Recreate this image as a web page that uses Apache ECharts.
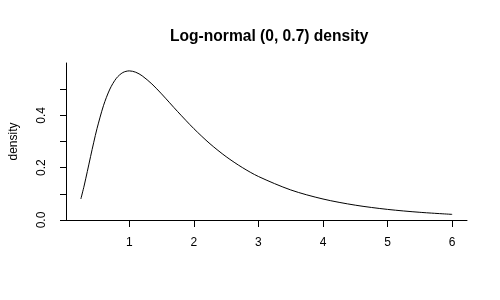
<!DOCTYPE html>
<html><head><meta charset="utf-8">
<script src="https://cdn.jsdelivr.net/npm/echarts@6/dist/echarts.min.js"></script>
<style>html,body{margin:0;padding:0;background:#fff}#c{width:500px;height:300px}</style>
</head><body><div id="c"></div>
<script>
const titleText = 'Log-normal (0, 0.7) density';
const yName = 'density';
const xValues = [0.25,0.3,0.35,0.4,0.45,0.5,0.6,0.7,0.8,0.9,1.0,1.1,1.2,1.35,1.5,1.75,2.0,2.25,2.5,2.75,3.0,3.5,4.0,4.5,5.0,5.5,6.0];
const densityValues = [0.0802,0.1298,0.1851,0.2420,0.2973,0.3491,0.4367,0.5005,0.5417,0.5635,0.5699,0.5647,0.5509,0.5199,0.4819,0.4140,0.3491,0.2913,0.2420,0.2006,0.1663,0.1149,0.0802,0.0567,0.0405,0.0294,0.0215];
const xTicks = [1,2,3,4,5,6];
const yTicks = [0,0.1,0.2,0.3,0.4,0.5];
const yLabels = [0,0.2,0.4];

const chart = echarts.init(document.getElementById('c'), null, {renderer:'canvas'});
const font = 'Liberation Sans, Arial, sans-serif';
chart.setOption({
  animation:false,
  backgroundColor:'#fff',
  title:{text:titleText,left:165,top:24,
    textStyle:{fontFamily:font,fontSize:15.6,fontWeight:'bold',color:'#000'}},
  grid:{left:63,right:33,top:63,bottom:80,containLabel:false},
  xAxis:{type:'value',min:0.02,max:6.23,
    axisLine:{show:true,onZero:false,lineStyle:{color:'#000',width:1}},
    axisTick:{show:true,length:7,customValues:xTicks,lineStyle:{color:'#000'}},
    axisLabel:{customValues:xTicks,margin:17,fontFamily:font,fontSize:12,color:'#000'},
    splitLine:{show:false}},
  yAxis:{type:'value',min:0,max:0.6,
    name:yName,nameLocation:'middle',nameRotate:90,nameGap:46,
    nameTextStyle:{fontFamily:font,fontSize:12,color:'#000'},
    axisLine:{show:true,lineStyle:{color:'#000',width:1}},
    axisTick:{show:true,length:6,customValues:yTicks,lineStyle:{color:'#000'}},
    axisLabel:{customValues:yLabels,rotate:90,margin:18,fontFamily:font,fontSize:12,color:'#000',
      formatter:v=>v.toFixed(1)},
    splitLine:{show:false}},
  series:[{type:'line',data:xValues.map((x,i)=>[x,densityValues[i]]),
    smooth:0.3,showSymbol:false,lineStyle:{color:'#000',width:1}}]
});
</script></body></html>
